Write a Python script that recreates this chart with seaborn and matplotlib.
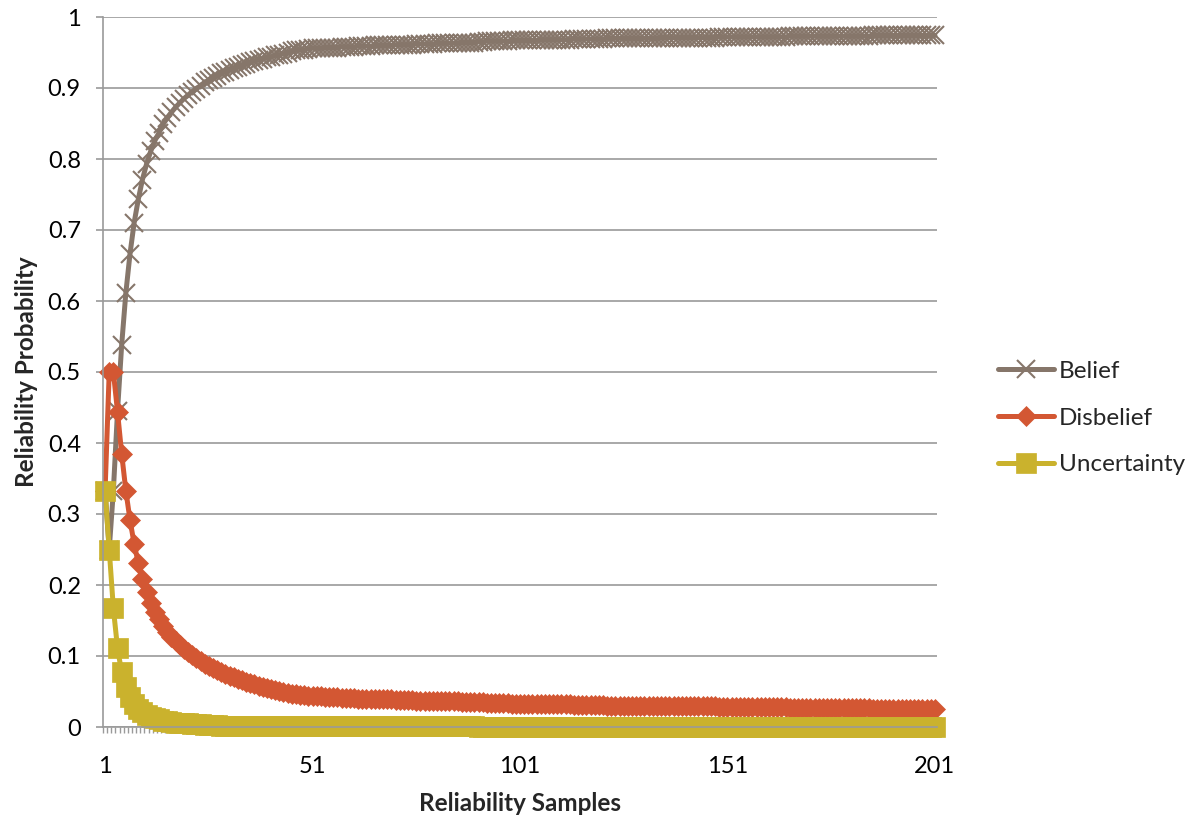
import numpy as np
import pandas as pd
import matplotlib
matplotlib.use("Agg")
import matplotlib.pyplot as plt
from matplotlib.ticker import FixedLocator
import seaborn as sns

# Category axis: reliability sample number
samples = list(range(1, 202))

# Series values in thousandths (per-mille) for each sample
belief_pm = [
    333, 250, 333, 445, 538, 611, 666, 710, 743, 771,
    793, 811, 826, 837, 849, 858, 866, 873, 879, 885,
    890, 895, 899, 903, 908, 911, 914, 917, 921, 923,
    926, 928, 930, 932, 934, 936, 938, 940, 941, 943,
    944, 946, 947, 948, 950, 952, 953, 954, 954, 955,
    956, 956, 956, 957, 957, 957, 957, 958, 958, 958,
    958, 959, 959, 959, 959, 960, 960, 960, 960, 960,
    961, 961, 961, 961, 961, 962, 962, 962, 962, 962,
    963, 963, 963, 963, 963, 963, 964, 964, 964, 964,
    965, 965, 966, 966, 966, 966, 966, 966, 967, 967,
    967, 967, 967, 967, 967, 968, 968, 968, 968, 968,
    968, 968, 968, 969, 969, 969, 969, 969, 969, 969,
    969, 970, 970, 970, 970, 970, 970, 970, 970, 970,
    970, 970, 970, 970, 971, 971, 971, 971, 971, 971,
    971, 971, 971, 971, 971, 971, 971, 971, 972, 972,
    972, 972, 972, 972, 972, 972, 972, 972, 972, 972,
    972, 972, 972, 972, 972, 973, 973, 973, 973, 973,
    973, 973, 973, 973, 973, 973, 973, 973, 973, 973,
    973, 973, 973, 973, 973, 974, 974, 974, 974, 974,
    974, 974, 974, 974, 974, 974, 974, 974, 974, 974,
    974,
]
disbelief_pm = [
    333, 500, 500, 444, 385, 333, 292, 258, 231, 208,
    190, 175, 162, 152, 142, 134, 127, 121, 115, 110,
    105, 101, 97, 93, 89, 86, 83, 80, 77, 75,
    72, 70, 68, 66, 64, 62, 60, 58, 57, 55,
    54, 52, 51, 50, 48, 47, 46, 45, 45, 44,
    43, 43, 43, 42, 42, 42, 42, 41, 41, 41,
    41, 40, 40, 40, 40, 39, 39, 39, 39, 39,
    38, 38, 38, 38, 38, 37, 37, 37, 37, 37,
    36, 36, 36, 36, 36, 36, 35, 35, 35, 35,
    35, 35, 34, 34, 34, 34, 34, 34, 33, 33,
    33, 33, 33, 33, 33, 32, 32, 32, 32, 32,
    32, 32, 32, 31, 31, 31, 31, 31, 31, 31,
    31, 30, 30, 30, 30, 30, 30, 30, 30, 30,
    30, 30, 30, 30, 29, 29, 29, 29, 29, 29,
    29, 29, 29, 29, 29, 29, 29, 29, 28, 28,
    28, 28, 28, 28, 28, 28, 28, 28, 28, 28,
    28, 28, 28, 28, 28, 27, 27, 27, 27, 27,
    27, 27, 27, 27, 27, 27, 27, 27, 27, 27,
    27, 27, 27, 27, 27, 26, 26, 26, 26, 26,
    26, 26, 26, 26, 26, 26, 26, 26, 26, 26,
    26,
]
uncertainty_pm = [
    333, 250, 167, 111, 77, 56, 42, 32, 26, 21,
    17, 14, 12, 11, 9, 8, 7, 6, 6, 5,
    5, 4, 4, 4, 3, 3, 3, 3, 2, 2,
    2, 2, 2, 2, 2, 2, 2, 2, 2, 2,
    2, 2, 2, 2, 2, 1, 1, 1, 1, 1,
    1, 1, 1, 1, 1, 1, 1, 1, 1, 1,
    1, 1, 1, 1, 1, 1, 1, 1, 1, 1,
    1, 1, 1, 1, 1, 1, 1, 1, 1, 1,
    1, 1, 1, 1, 1, 1, 1, 1, 1, 1,
    0, 0, 0, 0, 0, 0, 0, 0, 0, 0,
    0, 0, 0, 0, 0, 0, 0, 0, 0, 0,
    0, 0, 0, 0, 0, 0, 0, 0, 0, 0,
    0, 0, 0, 0, 0, 0, 0, 0, 0, 0,
    0, 0, 0, 0, 0, 0, 0, 0, 0, 0,
    0, 0, 0, 0, 0, 0, 0, 0, 0, 0,
    0, 0, 0, 0, 0, 0, 0, 0, 0, 0,
    0, 0, 0, 0, 0, 0, 0, 0, 0, 0,
    0, 0, 0, 0, 0, 0, 0, 0, 0, 0,
    0, 0, 0, 0, 0, 0, 0, 0, 0, 0,
    0, 0, 0, 0, 0, 0, 0, 0, 0, 0,
    0,
]

series_names = ["Belief", "Disbelief", "Uncertainty"]
x_tick_values = [1, 51, 101, 151, 201]
y_tick_values = [0, 0.1, 0.2, 0.3, 0.4, 0.5, 0.6, 0.7, 0.8, 0.9, 1.0]
y_tick_labels = ["0", "0.1", "0.2", "0.3", "0.4", "0.5", "0.6", "0.7", "0.8", "0.9", "1"]

sns.set_theme(style="white")
plt.rcParams["font.family"] = ["Lato", "DejaVu Sans"]

# Long-format table: one row per (sample, series)
df = pd.DataFrame({
    "sample": samples * 3,
    "value": [v / 1000 for v in belief_pm + disbelief_pm + uncertainty_pm],
    "series": [n for n, vals in zip(series_names, [belief_pm, disbelief_pm, uncertainty_pm])
               for _ in vals],
})

GRID = "#9a9a9a"
COLORS = {"Belief": "#86766a", "Disbelief": "#d35733", "Uncertainty": "#cab22d"}
styles = {
    "Belief": dict(marker="x", markersize=13, markeredgewidth=1.5),
    "Disbelief": dict(marker="D", markersize=10, markeredgewidth=0.5),
    "Uncertainty": dict(marker="s", markersize=14.5, markeredgewidth=0.5),
}

fig = plt.figure(figsize=(11.96, 8.17), dpi=100)
ax = fig.add_axes([103 / 1196, 1 - 727 / 817, (937 - 103) / 1196, 710 / 817])

for name in series_names:
    sub = df[df["series"] == name]
    c = COLORS[name]
    sns.lineplot(data=sub, x="sample", y="value", ax=ax, label=name,
                 color=c, markeredgecolor=c, markerfacecolor=c,
                 linewidth=3.6, estimator=None, clip_on=False, **styles[name])

ax.set_xlim(0.5, 201.5)
ax.set_ylim(0, 1)

# Horizontal gridlines only
ax.set_axisbelow(True)
ax.yaxis.grid(True, color=GRID, linewidth=1.2)
ax.xaxis.grid(False)

for side in ("top", "right"):
    ax.spines[side].set_visible(False)
for side in ("left", "bottom"):
    ax.spines[side].set_color(GRID)
    ax.spines[side].set_linewidth(1.2)

ax.set_xticks(x_tick_values)
ax.set_xticklabels([str(v) for v in x_tick_values])
ax.xaxis.set_minor_locator(FixedLocator(np.arange(0.5, 202, 1)))
ax.set_yticks(y_tick_values)
ax.set_yticklabels(y_tick_labels)

ax.tick_params(axis="x", which="major", bottom=True, length=0, pad=21,
               labelsize=17, labelcolor="black")
ax.tick_params(axis="x", which="minor", bottom=True, length=4, width=1,
               color=GRID, direction="out")
ax.tick_params(axis="y", which="major", left=True, length=5, width=1.2,
               color=GRID, pad=11, labelsize=17, labelcolor="black")

ax.set_xlabel("Reliability Samples", fontsize=17.5, fontweight="bold", labelpad=11)
ax.set_ylabel("Reliability Probability", fontsize=17.5, fontweight="bold", labelpad=7)

handles, labels = ax.get_legend_handles_labels()
if ax.get_legend() is not None:
    ax.get_legend().remove()
fig.legend(handles, labels, loc="center left",
           bbox_to_anchor=(998 / 1196, 1 - 418 / 817),
           frameon=False, fontsize=17.5, handlelength=2.3, handletextpad=0.2,
           labelspacing=1.05, borderpad=0, borderaxespad=0)

fig.savefig("out.png", dpi=100)
